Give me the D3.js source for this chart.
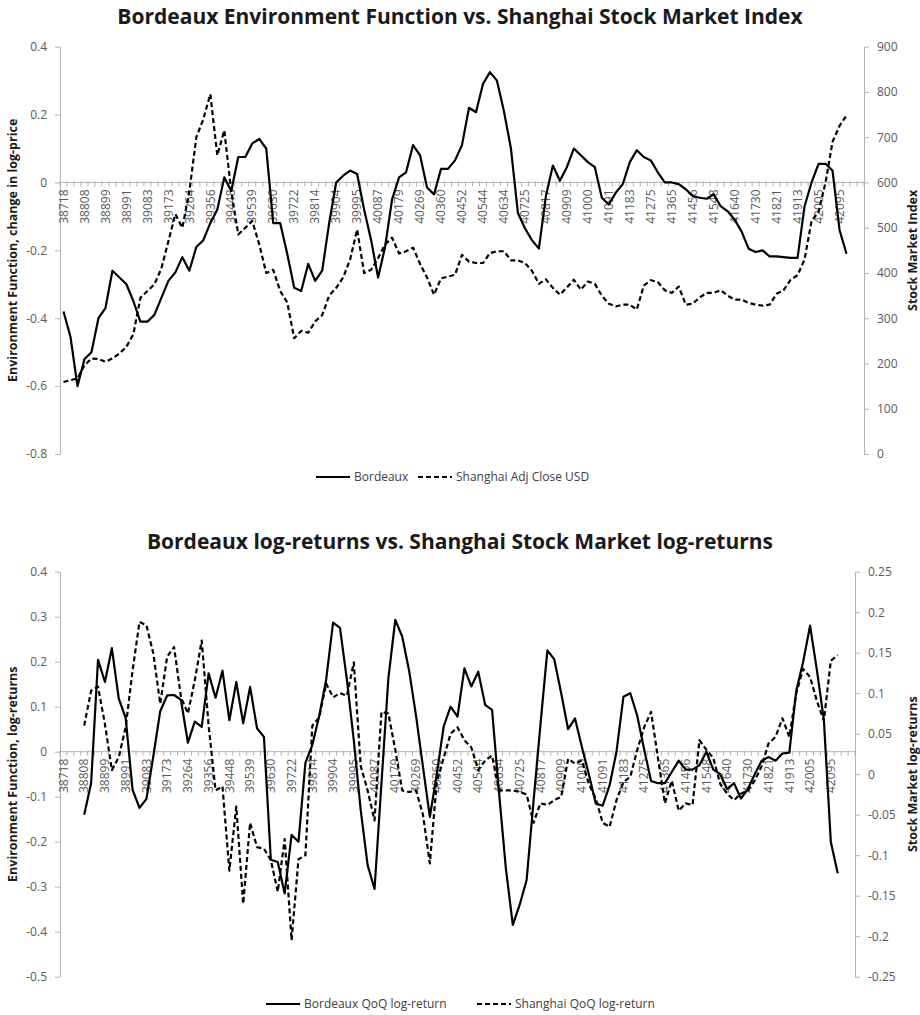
<!DOCTYPE html>
<html>
<head>
<meta charset="utf-8">
<script src="https://cdn.jsdelivr.net/npm/d3@7"></script>
<style>
  body { margin: 0; background: #fff; }
  svg { display: block; }
  text { font-family: "Open Sans", sans-serif; }
</style>
</head>
<body>
<svg id="chart" width="920" height="1015"></svg>
<script>
// monthly categories, shown as Excel date serials (Jan 2006 .. Jul 2015)
const months = d3.utcMonth.range(new Date(Date.UTC(2006, 0, 1)), new Date(Date.UTC(2015, 7, 1)));
const categories = months.map(d => Math.round((d - Date.UTC(1899, 11, 30)) / 864e5));

const tickLabels = [38718, 38808, 38899, 38991, 39083, 39173, 39264, 39356, 39448, 39539,
  39630, 39722, 39814, 39904, 39995, 40087, 40179, 40269, 40360, 40452, 40544, 40634,
  40725, 40817, 40909, 41000, 41091, 41183, 41275, 41365, 41456, 41548, 41640, 41730,
  41821, 41913, 42005, 42095];

// panel 1: Bordeaux environment function (left axis)
const bordeauxLevel = [-0.38, -0.455, -0.60, -0.52, -0.50, -0.40, -0.37, -0.26, -0.28, -0.30,
  -0.35, -0.41, -0.41, -0.39, -0.34, -0.29, -0.265, -0.22, -0.26, -0.19,
  -0.17, -0.12, -0.08, 0.015, -0.025, 0.075, 0.075, 0.115, 0.128, 0.10,
  -0.12, -0.12, -0.21, -0.31, -0.32, -0.24, -0.29, -0.26, -0.12, 0.0,
  0.02, 0.035, 0.025, -0.08, -0.17, -0.28, -0.19, -0.05, 0.015, 0.03,
  0.11, 0.08, -0.015, -0.035, 0.04, 0.04, 0.065, 0.11, 0.22, 0.207,
  0.29, 0.325, 0.30, 0.21, 0.10, -0.09, -0.135, -0.17, -0.195, -0.04,
  0.05, 0.005, 0.045, 0.10, 0.08, 0.06, 0.045, -0.045, -0.065, -0.03,
  -0.005, 0.06, 0.095, 0.075, 0.065, 0.03, 0.0, 0.0, -0.005, -0.02,
  -0.04, -0.045, -0.048, -0.035, -0.07, -0.085, -0.11, -0.145, -0.195, -0.205,
  -0.20, -0.218, -0.218, -0.22, -0.222, -0.222, -0.07, 0.0, 0.055, 0.055,
  0.035, -0.14, -0.21];

// panel 1: Shanghai adj close USD (right axis)
const shanghaiLevel = [159, 163, 167, 196, 211, 210, 204, 211, 222, 237,
  265, 345, 360, 375, 410, 470, 530, 500, 580, 700,
  740, 795, 660, 715, 580, 485, 500, 515, 463, 400,
  407, 360, 335, 256, 272, 268, 293, 307, 350, 367,
  390, 430, 496, 400, 407, 433, 463, 478, 443, 448,
  456, 420, 390, 352, 388, 392, 396, 440, 425, 422,
  422, 444, 448, 448, 428, 428, 422, 405, 376, 386,
  367, 352, 368, 385, 363, 381, 376, 350, 332, 326,
  330, 330, 319, 372, 384, 380, 362, 356, 370, 330,
  332, 346, 356, 356, 362, 350, 341, 341, 334, 330,
  328, 330, 354, 362, 385, 395, 430, 515, 535, 600,
  690, 725, 748];

// panel 2: Bordeaux QoQ log-return (left axis)
const bordeauxReturn = [null, null, null, -0.14, -0.07, 0.204, 0.155, 0.23, 0.118, 0.075,
  -0.085, -0.125, -0.105, -0.01, 0.09, 0.125, 0.126, 0.115, 0.02, 0.067,
  0.055, 0.174, 0.12, 0.18, 0.07, 0.155, 0.063, 0.144, 0.052, 0.033,
  -0.24, -0.245, -0.315, -0.185, -0.2, -0.025, 0.015, 0.08, 0.16, 0.287,
  0.275, 0.16, 0.025, -0.13, -0.252, -0.305, -0.07, 0.163, 0.293, 0.256,
  0.18, 0.08, -0.033, -0.145, -0.05, 0.056, 0.1, 0.078, 0.185, 0.145,
  0.178, 0.104, 0.093, -0.09, -0.26, -0.385, -0.34, -0.285, -0.11, 0.06,
  0.225, 0.205, 0.13, 0.05, 0.074, 0.01, -0.05, -0.115, -0.12, -0.075,
  0.0, 0.122, 0.13, 0.08, 0.005, -0.065, -0.07, -0.07, -0.045, -0.02,
  -0.04, -0.04, -0.03, 0.0, -0.04, -0.05, -0.083, -0.07, -0.104, -0.083,
  -0.05, -0.02, -0.012, -0.02, -0.004, -0.002, 0.135, 0.2, 0.28, 0.18,
  0.07, -0.2, -0.27];

// panel 2: Shanghai QoQ log-return (right axis)
const shanghaiReturn = [null, null, null, 0.06, 0.103, 0.108, 0.062, 0.005, 0.021, 0.058,
  0.128, 0.188, 0.184, 0.149, 0.087, 0.145, 0.157, 0.095, 0.075, 0.116,
  0.165, 0.06, -0.02, -0.015, -0.119, -0.04, -0.16, -0.06, -0.09, -0.092,
  -0.106, -0.145, -0.08, -0.205, -0.105, -0.1, 0.06, 0.07, 0.112, 0.095,
  0.1, 0.097, 0.138, 0.01, -0.02, -0.057, 0.077, 0.075, 0.03, -0.02,
  -0.022, -0.02, -0.05, -0.11, -0.01, 0.02, 0.05, 0.058, 0.042, 0.033,
  0.005, 0.017, 0.023, -0.02, -0.02, -0.02, -0.022, -0.025, -0.06, -0.036,
  -0.038, -0.032, -0.028, 0.019, 0.013, 0.017, -0.012, -0.03, -0.06, -0.065,
  -0.032, -0.01, -0.003, 0.03, 0.058, 0.077, 0.02, -0.036, -0.008, -0.045,
  -0.036, -0.038, 0.042, 0.03, 0.02, -0.012, -0.024, -0.032, -0.024, -0.02,
  -0.008, 0.01, 0.038, 0.046, 0.069, 0.046, 0.1, 0.13, 0.12, 0.09,
  0.066, 0.14, 0.147];

const leftTicks1 = [-0.8, -0.6, -0.4, -0.2, 0, 0.2, 0.4];
const rightTicks1 = [0, 100, 200, 300, 400, 500, 600, 700, 800, 900];
const leftTicks2 = [-0.5, -0.4, -0.3, -0.2, -0.1, 0, 0.1, 0.2, 0.3, 0.4];
const rightTicks2 = [-0.25, -0.2, -0.15, -0.1, -0.05, 0, 0.05, 0.1, 0.15, 0.2, 0.25];

const axisColor = "#b3b3b3";
const labelColor = "#595959";
const fmt = v => String(+v.toFixed(2));

const svg = d3.select("#chart");

function styleAxis(g) {
  g.attr("font-family", null).attr("font-size", null);
  g.select(".domain").attr("stroke", axisColor);
  g.selectAll(".tick line").attr("stroke", axisColor);
  g.selectAll(".tick text").attr("fill", labelColor).style("font-size", "12px");
}

function drawPanel(p) {
  const g = svg.append("g");

  const x = d3.scaleBand().domain(categories).range([p.left, p.right]);
  const yL = d3.scaleLinear().domain(d3.extent(p.leftTicks)).range([p.bottom, p.top]);
  const yR = d3.scaleLinear().domain(d3.extent(p.rightTicks)).range([p.bottom, p.top]);
  const cx = c => x(c) + x.bandwidth() / 2;

  g.append("text")
    .attr("x", 460)
    .attr("y", p.titleY)
    .attr("text-anchor", "middle")
    .style("font-size", "21px")
    .style("font-weight", "bold")
    .attr("fill", "#1a1a1a")
    .text(p.title);

  g.append("g")
    .attr("transform", `translate(${p.left},0)`)
    .call(d3.axisLeft(yL).tickValues(p.leftTicks).tickFormat(fmt).tickSize(5).tickSizeOuter(0).tickPadding(8))
    .call(styleAxis);

  g.append("g")
    .attr("transform", `translate(${p.right},0)`)
    .call(d3.axisRight(yR).tickValues(p.rightTicks).tickFormat(fmt).tickSize(5).tickSizeOuter(0).tickPadding(8))
    .call(styleAxis);

  // category axis crosses at left-axis zero
  const xa = g.append("g").attr("transform", `translate(0,${yL(0)})`);
  xa.append("line")
    .attr("x1", p.left).attr("x2", p.right)
    .attr("stroke", axisColor);

  const bounds = categories.map(c => x(c)).concat(x.range()[1]);
  xa.selectAll("line.tk")
    .data(bounds)
    .enter()
    .append("line")
    .attr("class", "tk")
    .attr("x1", d => d).attr("x2", d => d)
    .attr("y1", -1).attr("y2", 4)
    .attr("stroke", axisColor);

  xa.call(d3.axisBottom(x).tickValues(tickLabels).tickSize(0))
    .call(a => a.select(".domain").remove())
    .call(styleAxis)
    .selectAll(".tick text")
    .attr("transform", "rotate(-90)")
    .attr("x", -7)
    .attr("y", 0)
    .attr("dy", "0.35em")
    .style("text-anchor", "end");

  // axis titles
  g.append("text")
    .attr("transform", `translate(17,${(p.top + p.bottom) / 2}) rotate(-90)`)
    .attr("text-anchor", "middle")
    .style("font-size", "12.5px")
    .style("font-weight", "bold")
    .attr("fill", "#1a1a1a")
    .text(p.leftTitle);

  g.append("text")
    .attr("transform", `translate(917,${(p.top + p.bottom) / 2}) rotate(-90)`)
    .attr("text-anchor", "middle")
    .style("font-size", "12.5px")
    .style("font-weight", "bold")
    .attr("fill", "#1a1a1a")
    .text(p.rightTitle);

  // series
  const lineL = d3.line()
    .defined(d => d != null)
    .x((d, i) => cx(categories[i]))
    .y(d => yL(d));

  const lineR = d3.line()
    .defined(d => d != null)
    .x((d, i) => cx(categories[i]))
    .y(d => yR(d));

  g.append("path")
    .datum(p.leftSeries)
    .attr("d", lineL)
    .attr("fill", "none")
    .attr("stroke", "#000")
    .attr("stroke-width", 2.2)
    .attr("stroke-linejoin", "round");

  g.append("path")
    .datum(p.rightSeries)
    .attr("d", lineR)
    .attr("fill", "none")
    .attr("stroke", "#000")
    .attr("stroke-width", 2.2)
    .attr("stroke-dasharray", "5,3")
    .attr("stroke-linejoin", "round");

  // legend
  const lg = g.append("g").attr("transform", `translate(0,${p.legendY})`);
  p.legend.forEach(item => {
    lg.append("line")
      .attr("x1", item.x).attr("x2", item.x + 34)
      .attr("stroke", "#000")
      .attr("stroke-width", 2.2)
      .attr("stroke-dasharray", item.dashed ? "5,3" : null);
    lg.append("text")
      .attr("x", item.x + 38)
      .attr("dy", "0.35em")
      .style("font-size", "12px")
      .attr("fill", "#404040")
      .text(item.label);
  });
}

drawPanel({
  title: "Bordeaux Environment Function vs. Shanghai Stock Market Index",
  titleY: 24,
  left: 60, right: 864, top: 46.7, bottom: 454,
  leftTicks: leftTicks1, rightTicks: rightTicks1,
  leftTitle: "Environment Function, change in log-price",
  rightTitle: "Stock Market Index",
  leftSeries: bordeauxLevel, rightSeries: shanghaiLevel,
  legendY: 477,
  legend: [
    { x: 316, label: "Bordeaux", dashed: false },
    { x: 418, label: "Shanghai Adj Close USD", dashed: true }
  ]
});

drawPanel({
  title: "Bordeaux log-returns vs. Shanghai Stock Market log-returns",
  titleY: 549,
  left: 60, right: 855, top: 571.7, bottom: 976.7,
  leftTicks: leftTicks2, rightTicks: rightTicks2,
  leftTitle: "Environment Function, log-returns",
  rightTitle: "Stock Market log-returns",
  leftSeries: bordeauxReturn, rightSeries: shanghaiReturn,
  legendY: 1004,
  legend: [
    { x: 266, label: "Bordeaux QoQ log-return", dashed: false },
    { x: 477, label: "Shanghai QoQ log-return", dashed: true }
  ]
});
</script>
</body>
</html>
